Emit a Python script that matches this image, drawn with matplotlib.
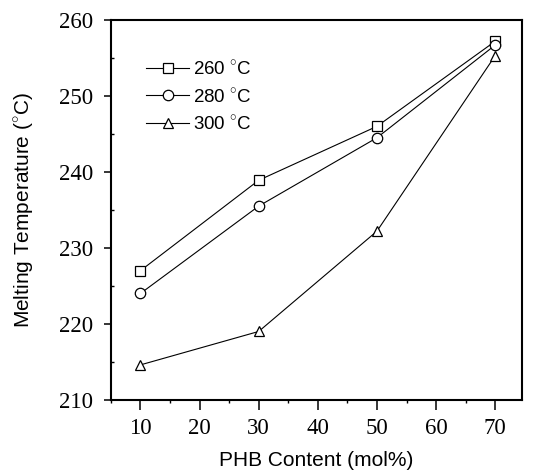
import matplotlib
matplotlib.use("Agg")
import matplotlib.pyplot as plt
from matplotlib.ticker import MultipleLocator

phb_content = [10, 30, 50, 70]
tm_260 = [227.0, 238.9, 246.0, 257.2]
tm_280 = [224.0, 235.5, 244.5, 256.7]
tm_300 = [214.6, 219.0, 232.2, 255.3]
series_labels = ["260 $^{\\circ}$C", "280 $^{\\circ}$C", "300 $^{\\circ}$C"]

plt.rcParams["font.family"] = ["Liberation Sans", "DejaVu Sans"]
plt.rcParams["mathtext.fontset"] = "custom"
plt.rcParams["mathtext.rm"] = "Liberation Sans"

fig = plt.figure(figsize=(5.33, 4.76), dpi=100)
ax = fig.add_axes([0.208, 0.160, 0.771, 0.798])

style = dict(color="black", linewidth=0.8, markersize=7.5, markerfacecolor="white",
             markeredgecolor="black", markeredgewidth=0.9)
ax.plot(phb_content, tm_260, marker="s", label=series_labels[0], **style)
ax.plot(phb_content, tm_280, marker="o", label=series_labels[1], **style)
ax.plot(phb_content, tm_300, marker="^", label=series_labels[2], **style)

ax.set_xlim(5, 74.5)
ax.set_ylim(210, 260)
ax.xaxis.set_major_locator(MultipleLocator(10))
ax.xaxis.set_minor_locator(MultipleLocator(5))
ax.yaxis.set_major_locator(MultipleLocator(10))
ax.yaxis.set_minor_locator(MultipleLocator(5))
ax.tick_params(axis="x", which="major", direction="out", length=7, width=1.1, pad=6)
ax.tick_params(axis="x", which="minor", direction="out", length=2.5, width=1.0)
ax.tick_params(axis="y", which="major", direction="out", length=5, width=1.1, pad=8)
ax.tick_params(axis="y", which="minor", direction="in", length=2.5, width=1.0)
for lab in ax.get_xticklabels() + ax.get_yticklabels():
    lab.set_family(["Liberation Serif", "DejaVu Serif"])
    lab.set_fontsize(16.5)
for sp in ax.spines.values():
    sp.set_linewidth(1.5)

ax.set_xlabel("PHB Content (mol%)", fontsize=15, labelpad=9)
ax.set_ylabel("Melting Temperature ($^{\\circ}$C)", fontsize=15, labelpad=16)

ax.legend(loc="upper left", bbox_to_anchor=(0.045, 0.94), frameon=False, fontsize=13.5,
          handlelength=2.3, handletextpad=0.2, labelspacing=0.45)

fig.savefig("out.png", dpi=100)
